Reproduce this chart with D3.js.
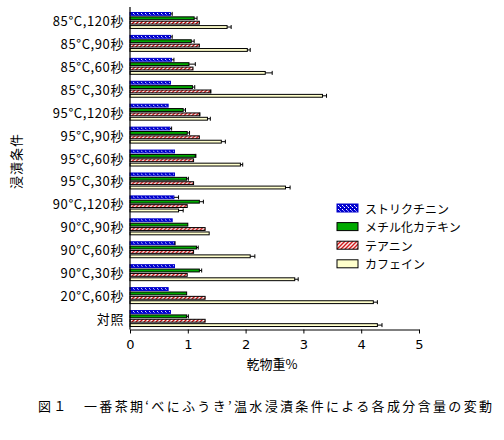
<!DOCTYPE html>
<html>
<head>
<meta charset="utf-8">
<script src="https://cdn.jsdelivr.net/npm/d3@7"></script>
<style>
  html, body { margin: 0; padding: 0; background: #fff; }
  svg { display: block; }
  text { font-family: "Noto Sans CJK JP", "Noto Sans", sans-serif; fill: #000; }
</style>
</head>
<body>
<svg id="chart" width="504" height="440"></svg>
<script>
// ---------- data ----------
const categories = [
  "85°C,120秒", "85°C,90秒", "85°C,60秒", "85°C,30秒",
  "95°C,120秒", "95°C,90秒", "95°C,60秒", "95°C,30秒",
  "90°C,120秒", "90°C,90秒", "90°C,60秒", "90°C,30秒",
  "20°C,60秒", "対照"
];
const seriesNames = ["ストリクチニン", "メチル化カテキン", "テアニン", "カフェイン"];

const strictinin     = [0.70, 0.70, 0.72, 0.70, 0.66, 0.69, 0.77, 0.77, 0.76, 0.73, 0.77, 0.77, 0.66, 0.70];
const strictininErr  = [0.03, 0.03, 0.04, 0.00, 0.00, 0.03, 0.00, 0.00, 0.08, 0.00, 0.01, 0.00, 0.00, 0.00];
const methylCatechin = [1.11, 1.06, 1.02, 1.08, 0.92, 0.99, 1.13, 0.98, 1.20, 1.00, 1.15, 1.20, 0.98, 0.98];
const methylErr      = [0.05, 0.05, 0.11, 0.04, 0.04, 0.04, 0.01, 0.03, 0.07, 0.00, 0.03, 0.04, 0.00, 0.03];
const theanine       = [1.20, 1.20, 1.09, 1.39, 1.20, 1.20, 1.10, 1.10, 0.99, 1.30, 1.10, 0.99, 1.30, 1.30];
const theanineErr    = [0.00, 0.00, 0.00, 0.01, 0.01, 0.00, 0.00, 0.00, 0.00, 0.00, 0.00, 0.00, 0.00, 0.00];
const caffeine       = [1.68, 2.03, 2.34, 3.33, 1.34, 1.58, 1.91, 2.69, 0.84, 1.37, 2.08, 2.85, 4.21, 4.28];
const caffeineErr    = [0.07, 0.05, 0.12, 0.07, 0.05, 0.07, 0.04, 0.08, 0.08, 0.00, 0.08, 0.06, 0.07, 0.08];

const xTicks = [0, 1, 2, 3, 4, 5];
const xTitle = "乾物重%";
const yTitle = "浸漬条件";
const caption = "図１　一番茶期‘べにふうき’温水浸漬条件による各成分含量の変動";

const seriesValues = [strictinin, methylCatechin, theanine, caffeine];
const seriesErrors = [strictininErr, methylErr, theanineErr, caffeineErr];

// ---------- setup ----------
const svg = d3.select("#chart");
const defs = svg.append("defs");

// blue checker pattern
const pb = defs.append("pattern").attr("id", "patBlue")
  .attr("patternUnits", "userSpaceOnUse").attr("width", 4).attr("height", 4);
pb.append("rect").attr("width", 4).attr("height", 4).attr("fill", "#0000cc");
pb.append("rect").attr("x", 1).attr("y", 1).attr("width", 1).attr("height", 1).attr("fill", "#fff");
pb.append("rect").attr("x", 3).attr("y", 3).attr("width", 1).attr("height", 1).attr("fill", "#fff");
pb.append("rect").attr("x", 2).attr("y", 2).attr("width", 1).attr("height", 1).attr("fill", "#8888ff");

// red diagonal hatch pattern
const pr = defs.append("pattern").attr("id", "patRed")
  .attr("patternUnits", "userSpaceOnUse").attr("width", 4).attr("height", 4);
pr.append("rect").attr("width", 4).attr("height", 4).attr("fill", "#fff");
pr.append("path").attr("d", "M-1,1 L1,-1 M0,4 L4,0 M3,5 L5,3")
  .attr("stroke", "#cc0000").attr("stroke-width", 1.3);

const fills = ["url(#patBlue)", "#00aa00", "url(#patRed)", "#ffffcc"];
const strokes = ["#0000cc", "#000", "#000", "#000"];

const x = d3.scaleLinear().domain([0, 5]).range([130, 419]);
const y = d3.scaleBand().domain(categories).range([9, 330])
  .paddingInner(0.26).paddingOuter(0.13);
const ySub = d3.scaleBand().domain(d3.range(4)).range([0, y.bandwidth()]).paddingInner(0.12);

// ---------- bars ----------
const groups = svg.append("g").selectAll("g")
  .data(categories).join("g")
  .attr("transform", d => `translate(0,${y(d)})`);

groups.each(function(cat, ci) {
  const g = d3.select(this);
  for (let s = 0; s < 4; s++) {
    const v = seriesValues[s][ci];
    const e = seriesErrors[s][ci];
    const y0 = ySub(s);
    const h = ySub.bandwidth();
    g.append("rect")
      .attr("x", x(0)).attr("y", y0 + 0.5)
      .attr("width", x(v) - x(0)).attr("height", h - 1)
      .attr("fill", fills[s]).attr("stroke", strokes[s]).attr("stroke-width", 1);
    if (e > 0) {
      const ym = y0 + h / 2;
      g.append("line").attr("x1", x(v)).attr("x2", x(v + e))
        .attr("y1", ym).attr("y2", ym).attr("stroke", "#000").attr("stroke-width", 1);
      g.append("line").attr("x1", x(v + e)).attr("x2", x(v + e))
        .attr("y1", ym - 2).attr("y2", ym + 2).attr("stroke", "#000").attr("stroke-width", 1);
    }
  }
});

// ---------- axes ----------
svg.append("line").attr("x1", x(0)).attr("x2", x(0)).attr("y1", 7).attr("y2", 329.5)
  .attr("stroke", "#000").attr("stroke-width", 1.2);

const xAxis = svg.append("g").attr("transform", "translate(0,329.5)")
  .call(d3.axisBottom(x).tickValues(xTicks).tickFormat(d3.format("d")).tickSize(4).tickSizeOuter(0));
xAxis.select(".domain").attr("stroke", "#000").attr("stroke-width", 1.2);
xAxis.selectAll(".tick line").attr("stroke", "#000");
xAxis.selectAll(".tick text").attr("font-size", 13).attr("dy", "0.95em")
  .style("font-family", "'DejaVu Sans', sans-serif");

// category labels
svg.append("g").selectAll("text").data(categories).join("text")
  .attr("x", 124).attr("y", d => y(d) + y.bandwidth() / 2)
  .attr("text-anchor", "end").attr("dominant-baseline", "central")
  .attr("font-size", 13).attr("letter-spacing", 0.6).text(d => d);

// axis titles
svg.append("text").attr("x", 272).attr("y", 363).attr("text-anchor", "middle")
  .attr("dominant-baseline", "central").attr("font-size", 13).text(xTitle);
svg.append("text").attr("transform", "translate(15,161) rotate(-90)")
  .attr("text-anchor", "middle").attr("dominant-baseline", "central")
  .attr("font-size", 13).attr("letter-spacing", 1).text(yTitle);

// ---------- legend ----------
const legend = svg.append("g").selectAll("g").data(seriesNames).join("g")
  .attr("transform", (d, i) => `translate(337,${204 + i * 18.6})`);
legend.append("rect").attr("width", 21).attr("height", 8)
  .attr("fill", (d, i) => fills[i]).attr("stroke", (d, i) => strokes[i]).attr("stroke-width", 1);
legend.append("text").attr("x", 28).attr("y", 4).attr("dominant-baseline", "central")
  .attr("font-size", 12).text(d => d);

// ---------- caption ----------
svg.append("text").attr("x", 38).attr("y", 405).attr("dominant-baseline", "central")
  .attr("font-size", 13).attr("textLength", 454).attr("lengthAdjust", "spacing")
  .text(caption);
</script>
</body>
</html>
